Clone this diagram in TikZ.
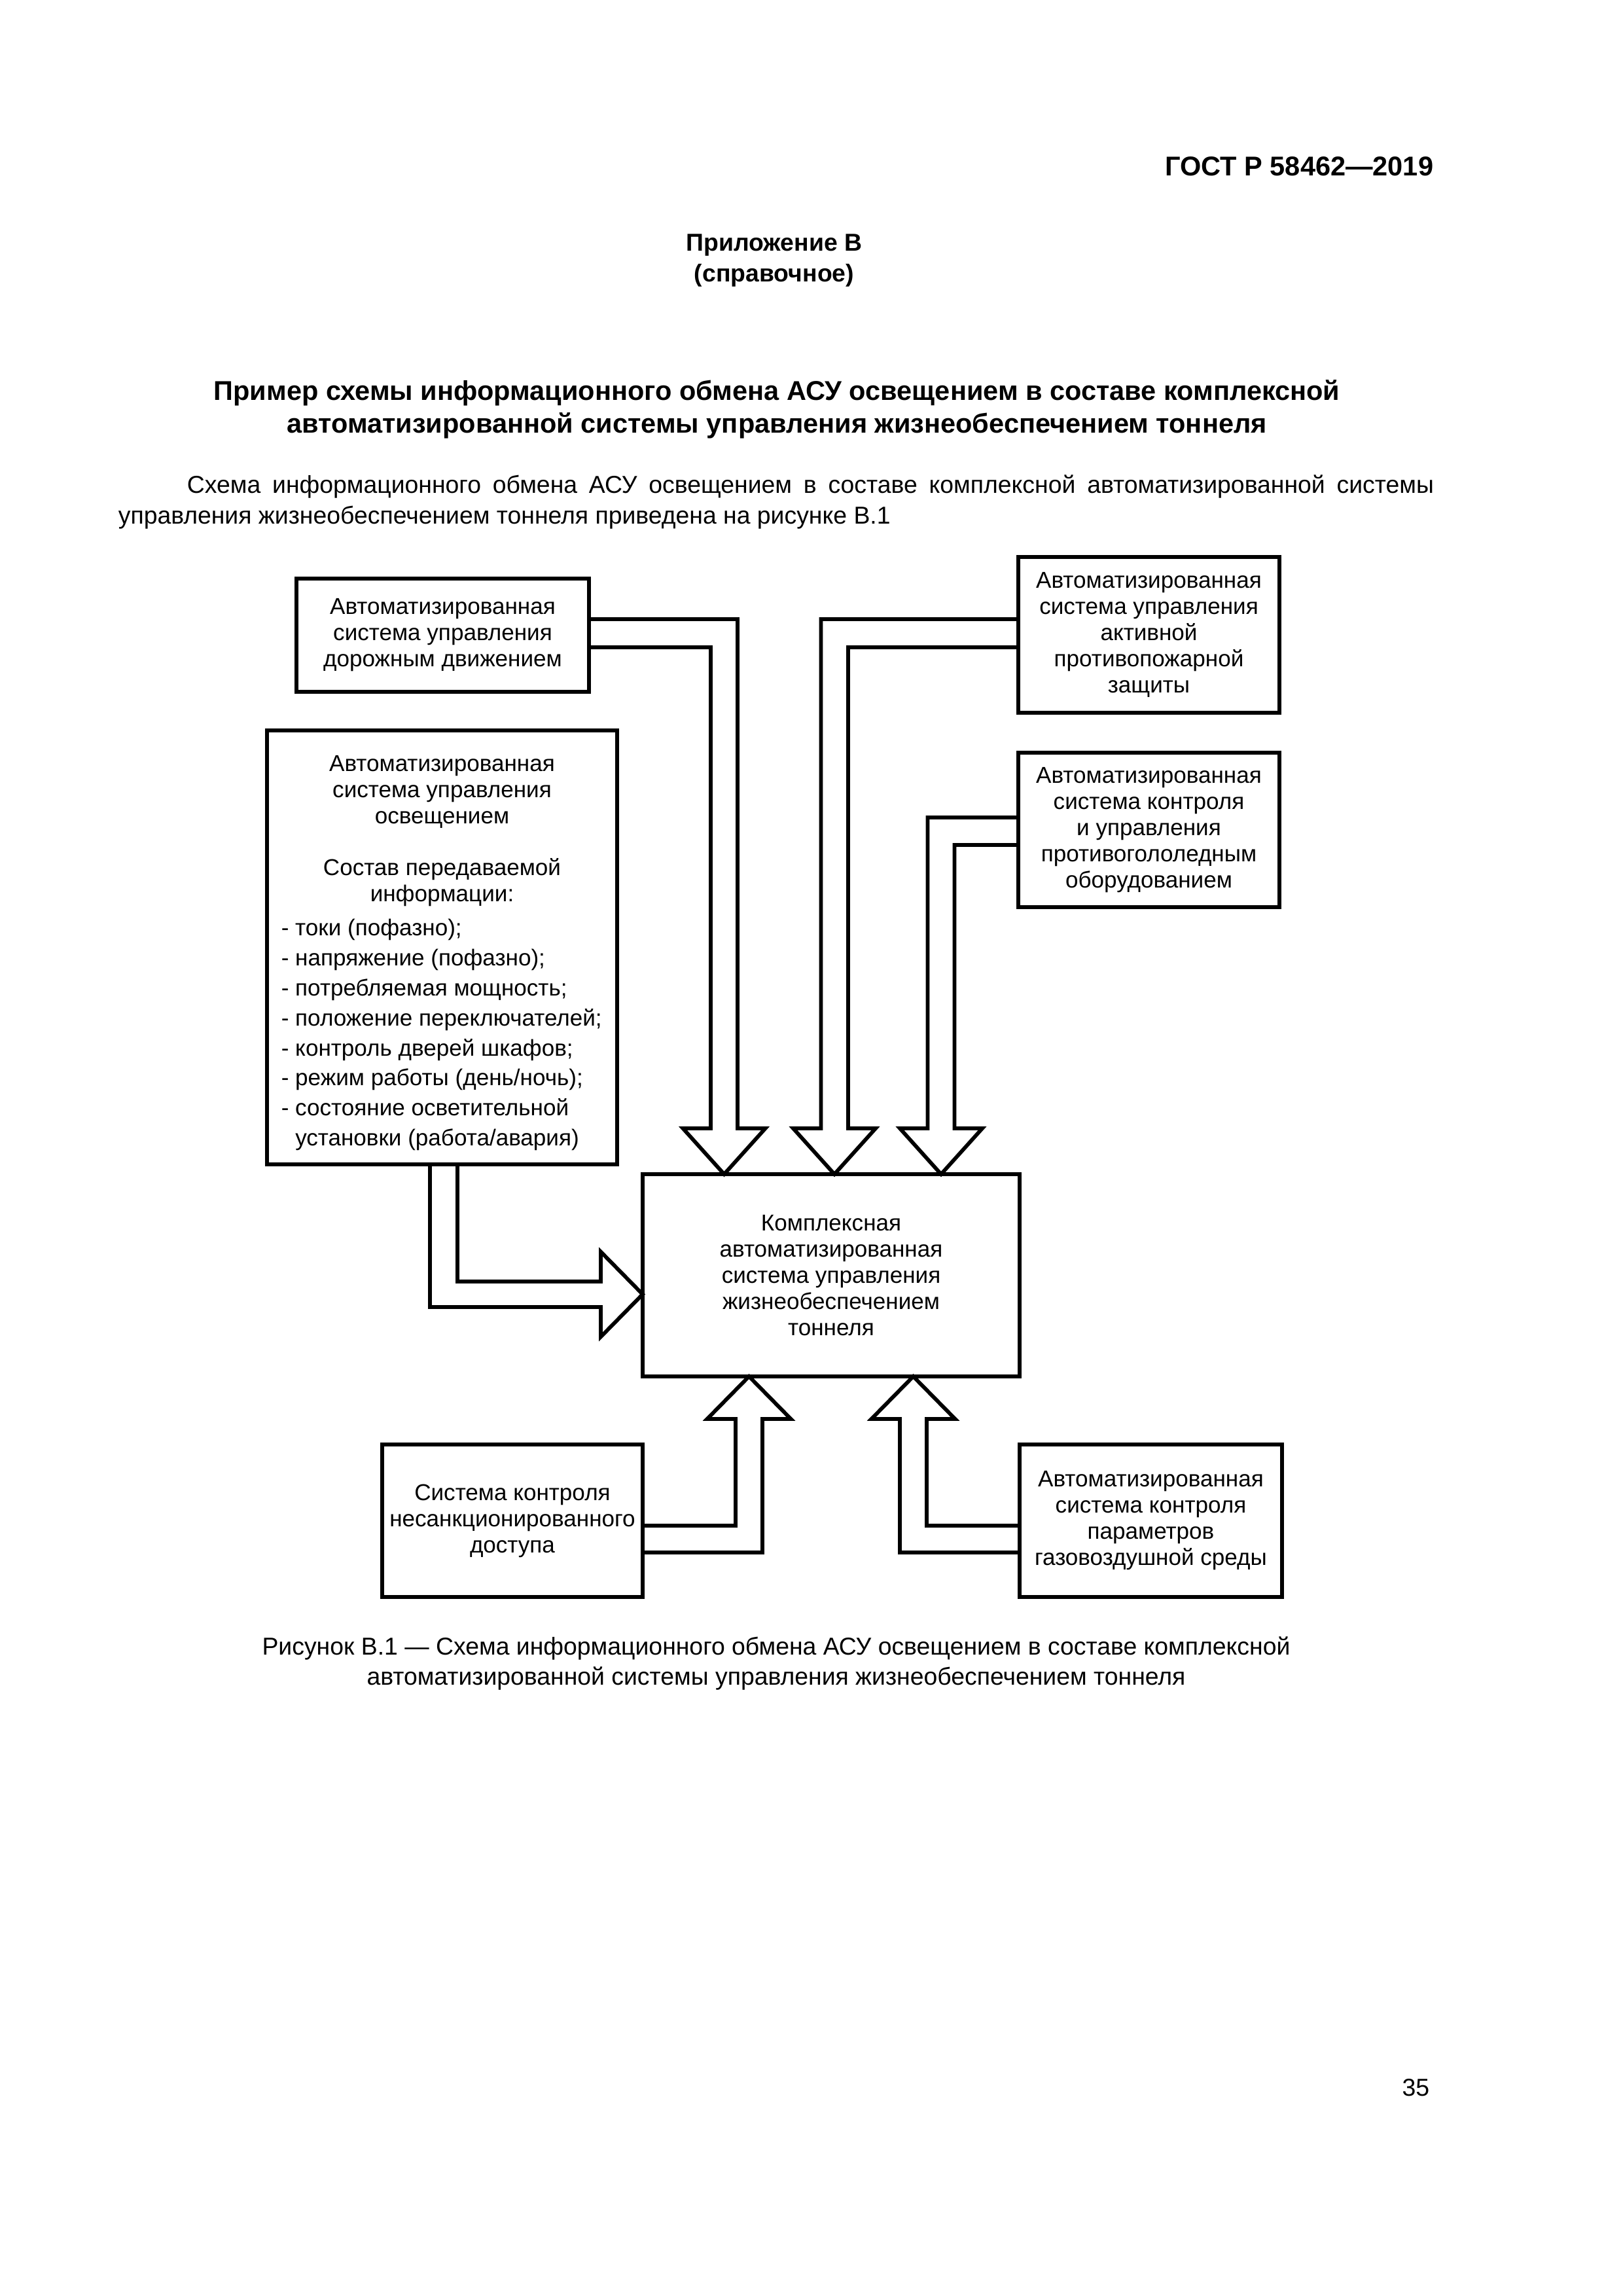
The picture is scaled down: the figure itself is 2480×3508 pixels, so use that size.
\documentclass[tikz,border=0pt]{standalone}
\usepackage{fontspec}
\setmainfont{Liberation Sans}
\newlength\pxu
\setlength{\pxu}{0.0846774mm}
\newcommand\dfont{\fontsize{8.45pt}{9.64pt}\selectfont}
\newcommand\bodyfont{\fontsize{9pt}{10.8pt}\selectfont}
\begin{document}
\begin{tikzpicture}[x=0.0846774mm, y=-0.0846774mm,
  box/.style={draw, line width=1.4pt, inner sep=0pt, align=center, font=\dfont},
  arr/.style={draw, line width=1.4pt, line join=miter},
  txt/.style={inner sep=0pt, font=\dfont, align=center},
  page/.style={inner sep=0pt, font=\bodyfont}]
\useasboundingbox[fill=white] (0,0) rectangle (2480,3508);

% page texts
\node[page, font=\fontsize{10pt}{12pt}\selectfont\bfseries, anchor=base east] (gost) at (2191,268) {ГОСТ Р 58462—2019};
\node[page, font=\fontsize{9pt}{11pt}\selectfont\bfseries, anchor=base] (app1) at (1183,383) {Приложение В};
\node[page, font=\fontsize{9pt}{11pt}\selectfont\bfseries, anchor=base] (app2) at (1183,430) {(справочное)};
\node[page, font=\fontsize{10pt}{12pt}\selectfont\bfseries, anchor=base] (title1) at (1187,611) {Пример схемы информационного обмена АСУ освещением в составе комплексной};
\node[page, font=\fontsize{10pt}{12pt}\selectfont\bfseries, anchor=base] (title2) at (1187,661) {автоматизированной системы управления жизнеобеспечением тоннеля};
\node[page, anchor=base west] (par1) at (285,753) {\makebox[161.3mm][s]{Схема информационного обмена АСУ освещением в составе комплексной автоматизированной системы}};
\node[page, anchor=base west] (par2) at (180,800) {управления жизнеобеспечением тоннеля приведена на рисунке В.1};
\node[page, anchor=base] (cap1) at (1186,2528) {Рисунок В.1 — Схема информационного обмена АСУ освещением в составе комплексной};
\node[page, anchor=base] (cap2) at (1186,2574) {автоматизированной системы управления жизнеобеспечением тоннеля};
\node[page, anchor=base east] (pnum) at (2185,3202) {35};

% boxes
\node[box, minimum width=447*\pxu, minimum height=173*\pxu] (traffic) at (676.5,970.5)
  {Автоматизированная\\система управления\\дорожным движением};
\node[box, minimum width=399*\pxu, minimum height=238*\pxu] (fire) at (1755.5,970)
  {Автоматизированная\\система управления\\активной\\противопожарной\\защиты};
\node[box, minimum width=535*\pxu, minimum height=663*\pxu] (light) at (675.5,1447.5) {};
\node[box, minimum width=399*\pxu, minimum height=236*\pxu] (ice) at (1755.5,1268)
  {Автоматизированная\\система контроля\\и управления\\противогололедным\\оборудованием};
\node[box, minimum width=576*\pxu, minimum height=309*\pxu] (central) at (1270,1948.5)
  {Комплексная\\автоматизированная\\система управления\\жизнеобеспечением\\тоннеля};
\node[box, minimum width=398*\pxu, minimum height=233*\pxu] (access) at (783,2323.5)
  {Система контроля\\несанкционированного\\доступа};
\node[box, minimum width=401*\pxu, minimum height=233*\pxu] (gas) at (1758.5,2323.5)
  {Автоматизированная\\система контроля\\параметров\\газовоздушной среды};

% lighting box contents
\node[txt] (lhead) at (675.5,1210) {Автоматизированная\\система управления\\освещением};
\node[txt] (lsost) at (675.5,1348) {Состав передаваемой\\информации:};
\node[txt, align=left, anchor=west, font=\fontsize{8.45pt}{11.04pt}\selectfont] (llist) at (429,1581)
  {- токи (пофазно);\\
   - напряжение (пофазно);\\
   - потребляемая мощность;\\
   - положение переключателей;\\
   - контроль дверей шкафов;\\
   - режим работы (день/ночь);\\
   - состояние осветительной\\
   \hphantom{-}\ установки (работа/авария)};

% block arrows into the central box (top)
\draw[arr] (900,946) -- (1127,946) -- (1127,1724) -- (1169.5,1724) -- (1106.5,1794)
  -- (1043.5,1724) -- (1086,1724) -- (1086,989) -- (900,989);
\draw[arr] (1556,946) -- (1254.5,946) -- (1254.5,1724) -- (1212,1724) -- (1275,1794)
  -- (1338,1724) -- (1296,1724) -- (1296,989) -- (1556,989);
\draw[arr] (1556,1249) -- (1417.5,1249) -- (1417.5,1724) -- (1375,1724) -- (1438,1794)
  -- (1501,1724) -- (1458.5,1724) -- (1458.5,1291) -- (1556,1291);

% block arrow from lighting box (left)
\draw[arr] (699,1779) -- (699,1958) -- (918,1958) -- (918,1912.5) -- (982,1977.5)
  -- (918,2042.5) -- (918,1997) -- (657,1997) -- (657,1779);

% block arrows into the central box (bottom)
\draw[arr] (982,2331) -- (1124,2331) -- (1124,2168) -- (1080.5,2168) -- (1144.5,2103)
  -- (1208.5,2168) -- (1165,2168) -- (1165,2372) -- (982,2372);
\draw[arr] (1558,2331) -- (1416,2331) -- (1416,2168) -- (1459.5,2168) -- (1395.5,2103)
  -- (1331.5,2168) -- (1375,2168) -- (1375,2372) -- (1558,2372);
\end{tikzpicture}
\end{document}
